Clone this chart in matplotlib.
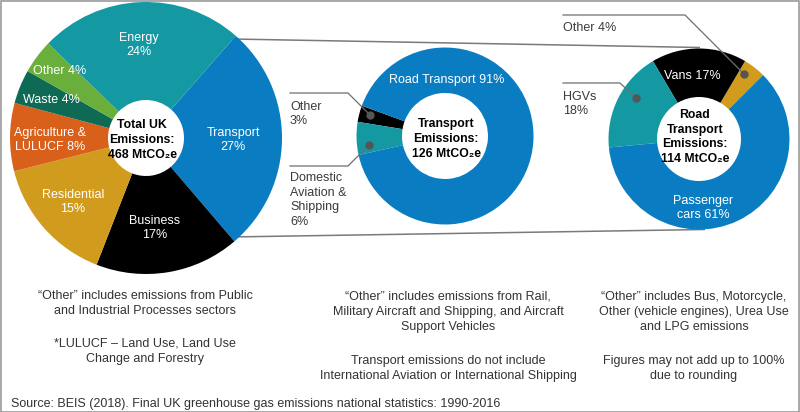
import matplotlib.pyplot as plt
from matplotlib.patches import Rectangle

plt.rcParams['font.family'] = ['Liberation Sans', 'DejaVu Sans']

W, H = 800, 412

# Total UK emissions by sector (%), clockwise from the Transport slice
uk_labels = ["Transport\n27%", "Business\n17%", "Residential\n15%",
             "Agriculture &\nLULUCF 8%", "Waste 4%", "Other 4%", "Energy\n24%"]
uk_shares = [27, 17, 15, 8, 4, 4, 24]
uk_colors = ["#0a7dc2", "#000000", "#d19b1e", "#d8601b", "#0e6a55", "#6aae3b", "#1499a3"]

# Transport emissions split (%)
transport_labels = ["Other\n3%", "Domestic\nAviation &\nShipping\n6%", "Road Transport 91%"]
transport_shares = [3, 6, 91]
transport_colors = ["#000000", "#1499a3", "#0a7dc2"]

# Road transport emissions split (%)
road_labels = ["Other 4%", "Vans 17%", "HGVs\n18%", "Passenger\ncars 61%"]
road_shares = [4, 17, 18, 61]
road_colors = ["#d19b1e", "#000000", "#1499a3", "#0a7dc2"]

totals = [468, 126, 114]

notes_left = ["\u201cOther\u201d includes emissions from Public\nand Industrial Processes sectors",
              "*LULUCF \u2013 Land Use, Land Use\nChange and Forestry"]
notes_mid = ["\u201cOther\u201d includes emissions from Rail,\nMilitary Aircraft and Shipping, and Aircraft\nSupport Vehicles",
             "Transport emissions do not include\nInternational Aviation or International Shipping"]
notes_right = ["\u201cOther\u201d includes Bus, Motorcycle,\nOther (vehicle engines), Urea Use\nand LPG emissions",
               "Figures may not add up to 100%\ndue to rounding"]
source = "Source: BEIS (2018). Final UK greenhouse gas emissions national statistics: 1990-2016"


def Y(y):
    # pixel row (from top) -> data y
    return H - y


fig = plt.figure(figsize=(8, 4.12), dpi=100)
ax = fig.add_axes([0, 0, 1, 1])

# zoom connector lines behind the pies
line_kw = dict(color="#7a7a7a", lw=1.1, zorder=0.5, solid_capstyle="butt")
ax.plot([232, 700], [Y(39), Y(47.5)], **line_kw)
ax.plot([229, 705], [Y(237), Y(229.5)], **line_kw)

# pie 1 - total UK
ax.pie(uk_shares, colors=uk_colors, startangle=48.7, counterclock=False,
       center=(146, Y(138)), radius=136,
       wedgeprops=dict(width=98, linewidth=0), frame=True)
# pie 2 - transport
ax.pie(transport_shares, colors=transport_colors, startangle=160,
       center=(445, Y(136)), radius=88.5,
       wedgeprops=dict(width=45.5, linewidth=0), frame=True)
# pie 3 - road transport
ax.pie(road_shares, colors=road_colors, startangle=45,
       center=(699, Y(139)), radius=90.5,
       wedgeprops=dict(width=48.5, linewidth=0), frame=True)

ax.set_xlim(0, W)
ax.set_ylim(0, H)
ax.set_aspect("equal")
ax.axis("off")

white = dict(color="white", fontsize=9, ha="center", va="center", linespacing=1.3)
dark = dict(color="#3a3a3a", fontsize=9, ha="left", va="center", linespacing=1.3)
bold = dict(color="black", fontsize=8.8, fontweight="bold", ha="center", va="center",
            linespacing=1.3)

# pie 1 labels
uk_pos = [(233, 140), (155, 228), (73, 202), (50, 140), (51, 100), (60, 71), (139, 45)]
for lab, (x, y) in zip(uk_labels, uk_pos):
    ax.text(x, Y(y), lab, **white)
ax.text(142, Y(140), f"Total UK\nEmissions:\n{totals[0]} MtCO\u2082e", **bold)

# pie 2 labels
ax.text(447, Y(80), transport_labels[2], **white)
ax.text(290, Y(114), transport_labels[0], **dark)
ax.text(290, Y(200), transport_labels[1], **dark)
ax.text(446, Y(139), f"Transport\nEmissions:\n{totals[1]} MtCO\u2082e", **bold)

# pie 3 labels
ax.text(692, Y(76), road_labels[1], **white)
ax.text(703, Y(208), road_labels[3], **white)
ax.text(563, Y(28), road_labels[0], **dark)
ax.text(563, Y(104), road_labels[2], **dark)
ax.text(695, Y(137), f"Road\nTransport\nEmissions:\n{totals[2]} MtCO\u2082e", **bold)

# leader lines with dots
leaders = [
    ([290, 348, 370], [93, 93, 115]),
    ([290, 348, 369], [166, 166, 145]),
    ([563, 685, 744], [15, 15, 74]),
    ([563, 620, 636], [83, 83, 98]),
]
for xs, ys in leaders:
    ax.plot(xs, [Y(v) for v in ys], color="#6e6e6e", lw=0.9, zorder=3)
    ax.plot(xs[-1], Y(ys[-1]), "o", color="#555555", ms=5, zorder=4)

# notes
note_kw = dict(color="#333333", fontsize=9, ha="center", va="center", linespacing=1.38)
ax.text(145, Y(303.5), notes_left[0], **note_kw)
ax.text(145, Y(351.5), notes_left[1], **note_kw)
ax.text(448, Y(312), notes_mid[0], **note_kw)
ax.text(448, Y(368.5), notes_mid[1], **note_kw)
ax.text(694, Y(312), notes_right[0], **note_kw)
ax.text(694, Y(368.5), notes_right[1], **note_kw)
ax.text(11, Y(404), source, color="#333333", fontsize=9, ha="left", va="center")

fig.patches.append(Rectangle((0.5 / W, 0.5 / H), 1 - 1.5 / W, 1 - 1.5 / H,
                             transform=fig.transFigure, fill=False,
                             edgecolor="#9a9a9a", lw=1.2))

fig.savefig("out.png", dpi=100)
